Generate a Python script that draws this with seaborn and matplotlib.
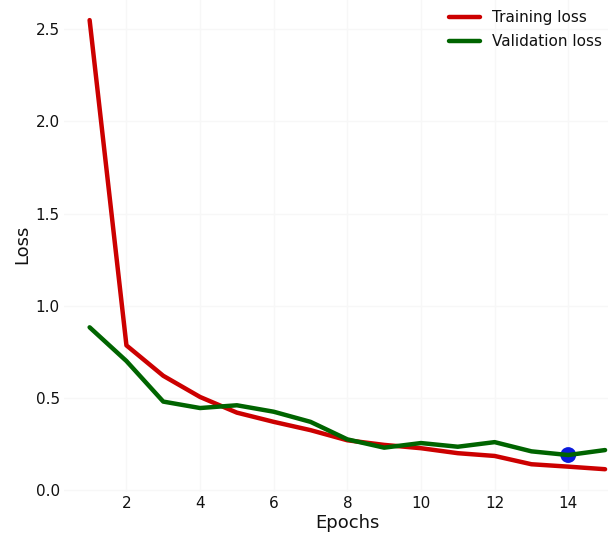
import matplotlib
matplotlib.use("Agg")
import matplotlib.pyplot as plt
import seaborn as sns
import pandas as pd

# Per-epoch loss history
epochs = list(range(1, 16))
training_loss = [2.55, 0.785, 0.62, 0.505, 0.42, 0.37, 0.325, 0.27, 0.245,
                 0.227, 0.20, 0.185, 0.14, 0.127, 0.113]
validation_loss = [0.883, 0.70, 0.48, 0.445, 0.46, 0.425, 0.37, 0.275, 0.23,
                   0.255, 0.235, 0.26, 0.21, 0.19, 0.217]

sns.set_theme(style="whitegrid", rc={"grid.color": "#f7f7f7",
                                     "axes.edgecolor": "white",
                                     "text.color": "#111111",
                                     "axes.labelcolor": "#111111",
                                     "xtick.color": "#111111",
                                     "ytick.color": "#111111"})
plt.rcParams["font.family"] = ["DejaVu Sans"]

df = pd.DataFrame({"epoch": epochs,
                   "train": training_loss,
                   "val": validation_loss})

# Best epoch = lowest validation loss
best_idx = int(df["val"].idxmin())
best = df.loc[[best_idx]]

fig = plt.figure(figsize=(6.08, 5.37), dpi=100)
ax = fig.add_axes([0.105, 0.0844, 0.9326, 0.920])

sns.scatterplot(data=best, x="epoch", y="val", ax=ax, s=130,
                color="#0a1adc", edgecolor="none", zorder=2, legend=False)
sns.lineplot(data=df, x="epoch", y="train", ax=ax, color="#cc0000",
             linewidth=3.2, label="Training loss", zorder=3)
sns.lineplot(data=df, x="epoch", y="val", ax=ax, color="#006400",
             linewidth=3.2, label="Validation loss", zorder=4)

ax.set_xlabel("Epochs", fontsize=13, labelpad=2)
ax.set_ylabel("Loss", fontsize=13, labelpad=3)
ax.set_yticks([0.0, 0.5, 1.0, 1.5, 2.0, 2.5])
ax.set_xticks([2, 4, 6, 8, 10, 12, 14])
ax.tick_params(labelsize=11, length=0, pad=3)
for s in ax.spines.values():
    s.set_visible(False)

ax.legend(loc="upper left", bbox_to_anchor=(443 / 608, 1 - 4 / 537),
          bbox_transform=fig.transFigure, borderaxespad=0, frameon=False,
          fontsize=11, labelspacing=0.6)

fig.savefig("out.png", dpi=100)
